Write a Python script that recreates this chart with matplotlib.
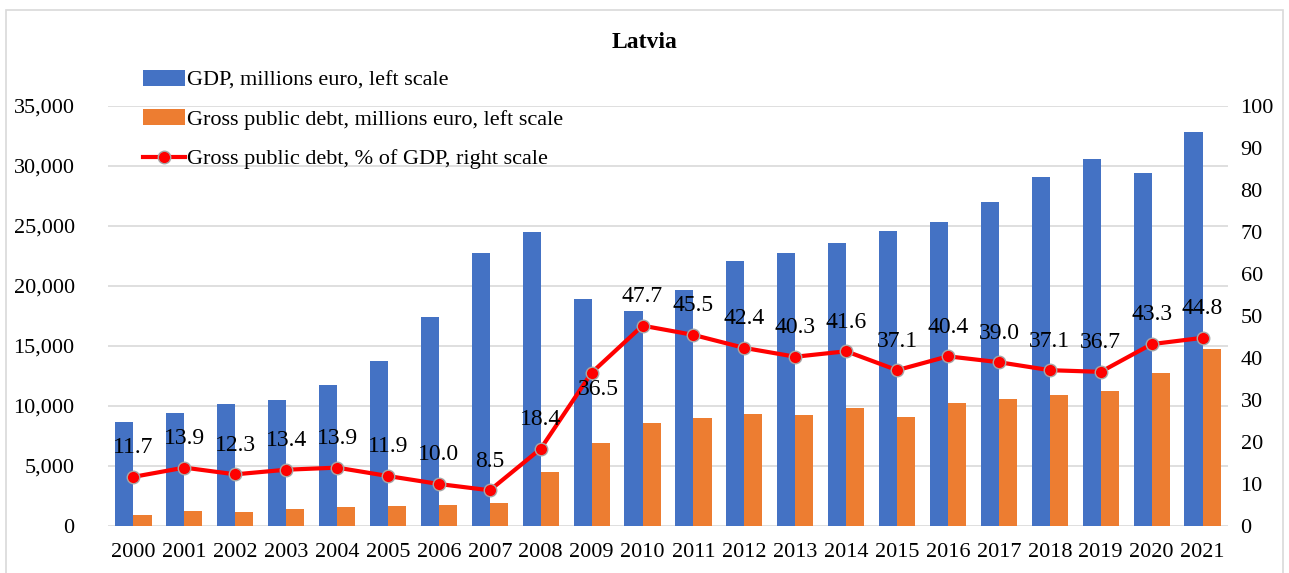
import numpy as np
import matplotlib
matplotlib.use("Agg")
import matplotlib.pyplot as plt
from matplotlib.patches import Rectangle

years = [str(y) for y in range(2000, 2022)]
gdp = [8680, 9380, 10200, 10500, 11790, 13780, 17390, 22780, 24530, 18890,
       17920, 19640, 22110, 22780, 23610, 24580, 25330, 27000, 29110, 30610,
       29390, 32860]
debt = [950, 1230, 1180, 1400, 1570, 1630, 1710, 1930, 4540, 6950,
        8600, 8960, 9360, 9220, 9800, 9100, 10250, 10560, 10900, 11230,
        12720, 14780]
debt_pct = [11.7, 13.9, 12.3, 13.4, 13.9, 11.9, 10.0, 8.5, 18.4, 36.5,
            47.7, 45.5, 42.4, 40.3, 41.6, 37.1, 40.4, 39.0, 37.1, 36.7,
            43.3, 44.8]

plt.rcParams['font.family'] = ['Liberation Serif', 'DejaVu Serif']
plt.rcParams['font.size'] = 16

W, H = 1289, 573
fig = plt.figure(figsize=(W / 100, H / 100), dpi=100)
ax = fig.add_axes([108 / W, (H - 526) / H, (1228 - 108) / W, (526 - 106) / H])
ax2 = ax.twinx()

x = np.arange(len(years))
bw = 0.355
b1 = ax.bar(x - bw / 2, gdp, bw, color='#4472C4', label='GDP, millions euro, left scale', zorder=2)
b2 = ax.bar(x + bw / 2, debt, bw, color='#ED7D31', label='Gross public debt, millions euro, left scale', zorder=2)
ln, = ax2.plot(x, debt_pct, color='#FF0000', lw=3, marker='o', ms=9,
               mfc='#FF0000', mec='#A6A6A6', mew=1,
               label='Gross public debt, % of GDP, right scale')

for i, v in enumerate(debt_pct):
    if years[i] == '2009':
        ax2.annotate(f"{v:.1f}", (i, v), xytext=(5, -12), textcoords='offset points',
                     ha='center', va='center', fontsize=17)
    else:
        ax2.annotate(f"{v:.1f}", (i, v), xytext=(0, 21), textcoords='offset points',
                     ha='center', va='center', fontsize=17)

ax.set_ylim(0, 35000)
ax.set_yticks(range(0, 35001, 5000))
ax.set_yticklabels([f"{t:,}" for t in range(0, 35001, 5000)])
ax2.set_ylim(0, 100)
ax2.set_yticks(range(0, 101, 10))
ax.set_xlim(-0.5, len(years) - 0.5)
ax.set_xticks(x)
ax.set_xticklabels(years)

ax.grid(axis='y', color='#D9D9D9', lw=1.2, zorder=0)
ax.set_axisbelow(True)
for a in (ax, ax2):
    for s in a.spines.values():
        s.set_visible(False)
    a.tick_params(length=0, labelsize=16)
ax.tick_params(axis='y', pad=24)
ax.tick_params(axis='x', pad=12)
ax2.tick_params(axis='y', pad=9)

fig.text(0.5, 1 - 42 / H, 'Latvia', ha='center', va='center', fontsize=17, fontweight='bold')

fig.legend(handles=[b1, b2, ln], loc='upper left', bbox_to_anchor=(143 / W, 1 - 70 / H),
           frameon=False, fontsize=16, borderpad=0, borderaxespad=0,
           handlelength=1.9, handletextpad=0.1, labelspacing=0.85)

fig.patches.append(Rectangle((6 / W, -0.1), (1283 - 6) / W, 1.1 - 10 / H,
                             transform=fig.transFigure, fill=False,
                             edgecolor='#D9D9D9', lw=1.2))

fig.savefig('out.png', dpi=100)
